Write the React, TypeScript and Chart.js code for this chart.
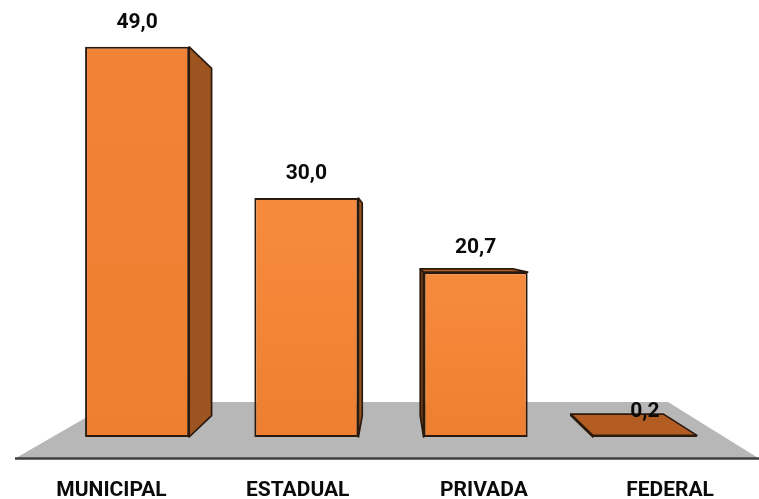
import React, { useEffect, useRef } from "react";
import { Chart, registerables } from "chart.js";

Chart.register(...registerables);

const categories = ["MUNICIPAL", "ESTADUAL", "PRIVADA", "FEDERAL"];
const values = [49.0, 30.0, 20.7, 0.2];
const FONT = "Roboto, sans-serif";

// vanishing point of the box perspective, relative to the plot area
const VP_X = 340.5;
const VP_Y = 195;
const DEPTH = 0.11;
const LABEL_SPREAD = 1.1;

const depthBars = {
  id: "depthBars",
  beforeDatasetsDraw(chart: any) {
    const { ctx, chartArea: a, scales } = chart;
    const base = scales.y.getPixelForValue(0);
    const floor = {
      left: a.left - 37.5,
      right: a.right + 29.5,
      backLeft: a.left + 60.5,
      backRight: a.left + 615.5,
      front: base + 21.5,
      back: base - 35,
    };
    ctx.save();
    ctx.fillStyle = "#b7b7b7";
    ctx.beginPath();
    ctx.moveTo(floor.left, floor.front);
    ctx.lineTo(floor.backLeft, floor.back);
    ctx.lineTo(floor.backRight, floor.back);
    ctx.lineTo(floor.right, floor.front);
    ctx.closePath();
    ctx.fill();
    ctx.strokeStyle = "#3f3f3f";
    ctx.lineWidth = 2.5;
    ctx.beginPath();
    ctx.moveTo(floor.left, floor.front);
    ctx.lineTo(floor.right, floor.front);
    ctx.stroke();

    const vx = a.left + VP_X;
    const vy = base - VP_Y;
    const back = (x: number, y: number): [number, number] => [x + (vx - x) * DEPTH, y + (vy - y) * DEPTH];
    const quad = (pts: [number, number][], fill: string) => {
      ctx.fillStyle = fill;
      ctx.strokeStyle = "#2a1a0e";
      ctx.lineWidth = 1.7;
      ctx.lineJoin = "round";
      ctx.beginPath();
      pts.forEach((p, i) => (i ? ctx.lineTo(p[0], p[1]) : ctx.moveTo(p[0], p[1])));
      ctx.closePath();
      ctx.fill();
      ctx.stroke();
    };
    chart.getDatasetMeta(0).data.forEach((bar: any) => {
      const l = bar.x - bar.width / 2;
      const r = bar.x + bar.width / 2;
      const top = bar.y;
      const bot = bar.base;
      if (r < vx) {
        quad([[r, top], back(r, top), back(r, bot), [r, bot]], "#9c5420");
      } else if (l > vx) {
        quad([[l, top], back(l, top), back(l, bot), [l, bot]], "#6e3a14");
      }
      if (top > vy) {
        quad([[l, top], back(l, top), back(r, top), [r, top]], "#b45d22");
      }
    });
    ctx.restore();
  },
  afterDatasetsDraw(chart: any) {
    const { ctx } = chart;
    ctx.save();
    ctx.fillStyle = "#0a0a0a";
    ctx.font = `700 21px ${FONT}`;
    ctx.textAlign = "center";
    ctx.textBaseline = "middle";
    chart.getDatasetMeta(0).data.forEach((bar: any, i: number) => {
      ctx.fillText(values[i].toFixed(1).replace(".", ","), bar.x, bar.y - 24);
    });
    ctx.restore();
  },
};

export default function App() {
  const ref = useRef<HTMLCanvasElement>(null);
  useEffect(() => {
    const chart = new Chart(ref.current!, {
      type: "bar",
      data: {
        labels: categories,
        datasets: [
          {
            data: values,
            backgroundColor: (c: any) => {
              const y = c.chart.scales.y;
              const v = values[c.dataIndex];
              const y0 = y ? y.getPixelForValue(v) : NaN;
              const y1 = y ? y.getPixelForValue(0) : NaN;
              if (!Number.isFinite(y0) || !Number.isFinite(y1)) return "#ef8033";
              const g = c.chart.ctx.createLinearGradient(0, y0, 0, y1);
              g.addColorStop(0, c.dataIndex === 0 ? "#f18337" : "#f78b3d");
              g.addColorStop(1, "#ee7f30");
              return g;
            },
            borderColor: "#2a1a0e",
            borderWidth: 2,
            borderSkipped: false,
            barPercentage: 0.615,
            categoryPercentage: 1,
          },
        ],
      },
      options: {
        responsive: false,
        animation: false,
        layout: { padding: { left: 52.5, right: 29.5, top: 7, bottom: 0 } },
        plugins: { legend: { display: false }, tooltip: { enabled: false } },
        scales: {
          x: {
            grid: { display: false, drawTicks: false },
            border: { display: false },
            afterFit: (s: any) => {
              s.height = 62;
              // labels sit on the front edge of the floor, spread by the perspective
              s.getPixelForTick = (i: number) => {
                const vx = s.left + VP_X;
                return vx + (s.getPixelForValue(i) - vx) * LABEL_SPREAD;
              };
            },
            ticks: {
              color: "#0a0a0a",
              maxRotation: 0,
              autoSkip: false,
              padding: 41,
              font: { family: FONT, size: 21, weight: "bold" },
            },
          },
          y: { display: false, min: 0, max: 54 },
        },
      },
      plugins: [depthBars],
    } as any);
    return () => chart.destroy();
  }, []);
  return (
    <div style={{ position: "fixed", left: 0, top: 0, width: 759, height: 499, background: "#fff" }}>
      <canvas ref={ref} width={759} height={499} style={{ display: "block", filter: "blur(0.5px)" }} />
    </div>
  );
}
